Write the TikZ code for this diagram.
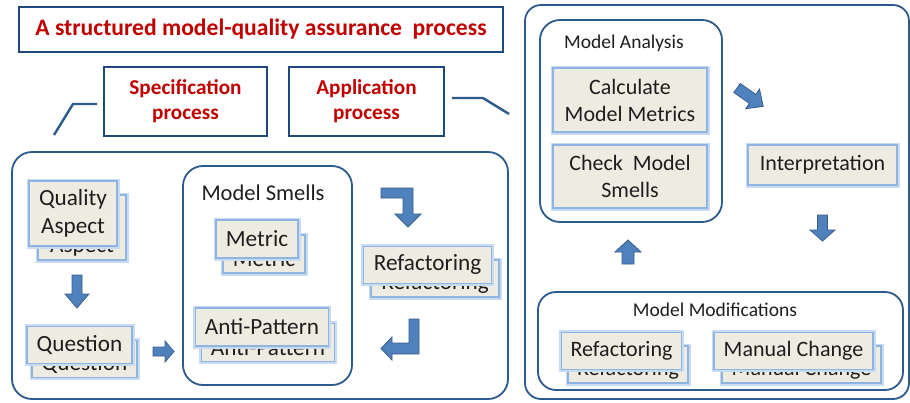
\documentclass[tikz,border=0pt]{standalone}
\usepackage{fontspec}
\setmainfont{Carlito}
\definecolor{dblue}{HTML}{2D5A8C}
\definecolor{tblue}{HTML}{1F497D}
\definecolor{bfill}{HTML}{EEECE1}
\definecolor{bline}{HTML}{8EB4E3}
\definecolor{glow}{HTML}{C9DBF2}
\definecolor{afill}{HTML}{4F81BD}
\definecolor{aline}{HTML}{385D8A}
\definecolor{tred}{HTML}{C00000}
\definecolor{tdark}{HTML}{1E1E1E}
\newcommand\lowtext[1]{\raisebox{-5pt}[\height][\depth]{#1}}
\tikzset{
 container/.style={draw=dblue, line width=1.8pt, rounded corners=20pt, rectangle, inner sep=0pt},
 headbox/.style={draw=tblue, line width=2.8pt, fill=white, inner sep=0pt, align=center, text=tred, font=\bfseries\fontsize{21.2}{25}\selectfont},
 sbox/.style={rectangle, fill=bfill, draw=bline, line width=1.3pt, preaction={draw=glow, line width=5pt}, inner sep=0pt, align=center, font=\fontsize{23.2}{28}\selectfont, text=tdark},
 rbox/.style={sbox, font=\fontsize{22}{27}\selectfont},
 blockarrow/.style={fill=afill, draw=aline, line width=0.8pt, line join=miter},
 link/.style={draw=dblue, line width=2.4pt},
 grouplabel/.style={font=\fontsize{19.5}{23}\selectfont, text=tdark, inner sep=0pt},
}
\begin{document}
\begin{tikzpicture}[x=1pt,y=-1pt]
\useasboundingbox (0,0) rectangle (910,402);
\fill[white] (0,0) rectangle (910,402);

% header boxes
\node[headbox, minimum width=484pt, minimum height=45pt, font=\bfseries\fontsize{23.6}{28}\selectfont] (title) at (261,29.5) {A structured model-quality assurance\ \ process};
\node[headbox, minimum width=163pt, minimum height=69pt] (spec) at (185.5,101.5) {Specification\\process};
\node[headbox, minimum width=155pt, minimum height=69pt] (app) at (366.5,101.5) {Application\\process};

% containers
\node[container, minimum width=496pt, minimum height=247pt] (specarea) at (260,275.5) {};
\node[container, minimum width=169pt, minimum height=219pt] (smells) at (267.5,275.5) {};
\node[container, minimum width=384pt, minimum height=394pt, rounded corners=16pt] (apparea) at (717,202) {};
\node[container, minimum width=182pt, minimum height=202pt] (analysis) at (631,121) {};
\node[container, minimum width=365pt, minimum height=98pt, rounded corners=18pt] (mods) at (720.5,341) {};

% connecting lines
\coordinate (s1) at (97,104);
\coordinate (s2) at (73,104);
\coordinate (s3) at (54,135);
\draw[link] (s1) -- (s2) -- (s3);
\coordinate (a1) at (452,98);
\coordinate (a2) at (483,98);
\coordinate (a3) at (509,114);
\draw[link] (a1) -- (a2) -- (a3);

% group labels
\node[grouplabel, font=\fontsize{22.5}{26}\selectfont] (smellslabel) at (263,193) {Model Smells};
\node[grouplabel, anchor=west] (analysislabel) at (564,43) {Model Analysis};
\node[grouplabel] (modslabel) at (715,310) {Model Modifications};

% specification side boxes
\node[sbox, minimum width=88pt, minimum height=65pt] (qaback) at (82,227.5) {\lowtext{Quality}\\\lowtext{Aspect}};
\node[sbox, minimum width=88pt, minimum height=65pt] (qa) at (73,213.5) {Quality\\Aspect};
\node[sbox, minimum width=105pt, minimum height=37pt] (qback) at (84.5,359) {\lowtext{Question}};
\node[sbox, minimum width=105pt, minimum height=37pt] (q) at (79.5,345) {Question};
\node[sbox, minimum width=82pt, minimum height=38pt] (mback) at (264,254) {\lowtext{Metric}};
\node[sbox, minimum width=82pt, minimum height=38pt] (m) at (257,239) {Metric};
\node[sbox, minimum width=133pt, minimum height=38pt] (apback) at (268,342.5) {\lowtext{Anti-Pattern}};
\node[sbox, minimum width=133pt, minimum height=38pt] (ap) at (262,327) {Anti-Pattern};
\node[sbox, minimum width=128pt, minimum height=37pt] (rlback) at (435,278.5) {\lowtext{Refactoring}};
\node[sbox, minimum width=128pt, minimum height=37pt] (rl) at (427.5,265) {Refactoring};

% application side boxes
\node[rbox, minimum width=154pt, minimum height=64pt] (calc) at (630,100) {Calculate\\Model Metrics};
\node[rbox, minimum width=154pt, minimum height=63pt] (check) at (630,176.5) {Check~ Model\\Smells};
\node[rbox, minimum width=149pt, minimum height=40pt] (interp) at (822.5,165) {Interpretation};
\node[rbox, minimum width=120pt, minimum height=37pt] (rrback) at (628,364.5) {\lowtext{Refactoring}};
\node[rbox, minimum width=120pt, minimum height=37pt] (rr) at (621.5,351) {Refactoring};
\node[rbox, minimum width=159pt, minimum height=37pt] (mcback) at (801.5,364.5) {\lowtext{Manual Change}};
\node[rbox, minimum width=159pt, minimum height=37pt] (mc) at (793.5,351) {Manual Change};

% block arrows
% Quality Aspect -> Question
\draw[blockarrow] (72,275) -- (82,275) -- (82,294) -- (89,294) -- (77,308) -- (65,294) -- (72,294) -- cycle;
% Question -> Model Smells
\draw[blockarrow] (153,347) -- (165,347) -- (165,341) -- (174,351.5) -- (165,362) -- (165,356) -- (153,356) -- cycle;
% bent arrow top
\draw[blockarrow] (381,188) -- (413,188) -- (413,214) -- (421,214) -- (408,227) -- (395,214) -- (403,214) -- (403,198) -- (381,198) -- cycle;
% bent arrow bottom
\draw[blockarrow] (409,319) -- (419,319) -- (419,354) -- (392,354) -- (392,360) -- (381,348.5) -- (392,337) -- (392,343) -- (409,343) -- cycle;
% diagonal arrow
\draw[blockarrow] (733.8,92.5) -- (740.2,83.5) -- (755.8,94.4) -- (759.5,89.1) -- (763.2,106.4) -- (745.7,108.7) -- (749.4,103.4) -- cycle;
% down arrow under Interpretation
\draw[blockarrow] (817.5,215) -- (827.5,215) -- (827.5,230) -- (835,230) -- (822.5,241) -- (810,230) -- (817.5,230) -- cycle;
% up arrow
\draw[blockarrow] (622,264) -- (634,264) -- (634,252) -- (641,252) -- (628,240) -- (615,252) -- (622,252) -- cycle;
\end{tikzpicture}
\end{document}
